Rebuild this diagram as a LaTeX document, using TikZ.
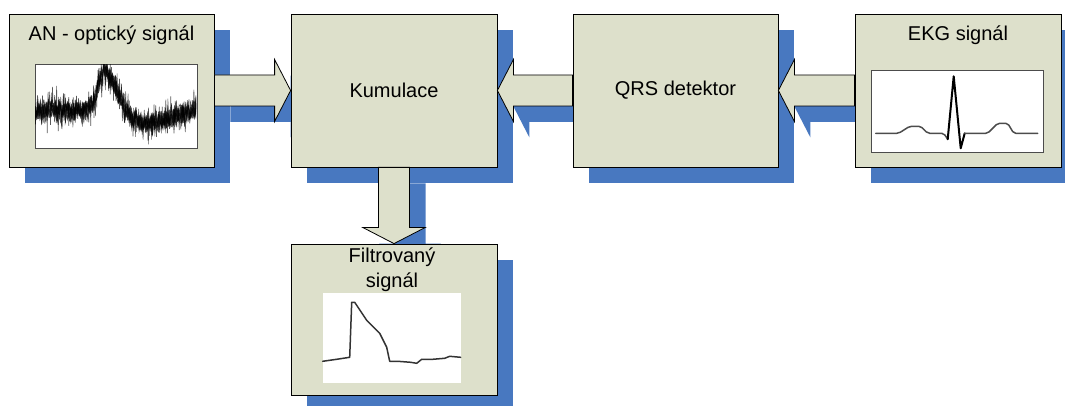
\documentclass[tikz,border=0pt]{standalone}
\usepackage{fontspec}
\setmainfont{Liberation Sans}
\usetikzlibrary{calc,backgrounds,positioning}

\definecolor{boxfill}{RGB}{221,224,203}
\definecolor{shadowblue}{RGB}{72,120,192}

\tikzset{
  block/.style={draw=black, line width=0.8pt, fill=boxfill, minimum width=205pt, minimum height=153pt, inner sep=0pt, font=\fontsize{20}{25}\selectfont},
  boxtitle/.style={inner sep=0pt, font=\fontsize{20}{25}\selectfont, align=center},
  plotbox/.style={draw=black!70, line width=0.6pt, fill=white, inner sep=0pt},
  fatbody/.style={draw=black, line width=0.8pt, fill=boxfill, line join=miter},
  fatshadow/.style={draw=none, fill=shadowblue},
  sigline/.style={line width=1.5pt, black!80, line join=round, line cap=round}
}

% fat arrow from #2 with its tip on #3
\newcommand{\fatarrow}[3][]{%
  \coordinate (fa-h) at ($(#3)!16pt!(#2)$);
  \path[#1] ($(#2)!15.5pt!90:(#3)$) -- ($(fa-h)!15.5pt!90:(#3)$) -- ($(fa-h)!31pt!90:(#3)$) -- (#3)
    -- ($(fa-h)!31pt!-90:(#3)$) -- ($(fa-h)!15.5pt!-90:(#3)$) -- ($(#2)!15.5pt!-90:(#3)$) -- cycle;}

\begin{document}
\begin{tikzpicture}[x=1pt,y=1pt]
\useasboundingbox (0,0) rectangle (1065,406);

% -- blocks
\node[block] (an) at (111.5,315.5) {};
\node[block, minimum width=206pt] (kum) at (394,315.5) {Kumulace};
\node[block] (qrs) at (675.5,315.5) {QRS detektor};
\node[block, minimum width=206pt] (ekg) at (958,315.5) {};
\node[block, minimum width=206pt, minimum height=151pt] (filt) at (394,86.5) {};

% -- titles
\node[boxtitle, anchor=base] (antitle) at ($(an.north)+(0,-27)$) {AN - optický signál};
\node[boxtitle, anchor=base] (ekgtitle) at ($(ekg.north)+(0,-27)$) {EKG signál};
\node[boxtitle] (filttitle) at ($(filt.north)+(-2,-26)$) {Filtrovaný\\signál};

% -- plot areas
\node[plotbox, minimum width=162pt, minimum height=84pt] (anplot) at (116,300) {};
\node[plotbox, minimum width=172pt, minimum height=82pt] (ekgplot) at (957,295) {};
\node[plotbox, draw=none, minimum width=138pt, minimum height=90pt] (filtplot) at (392,68) {};

% -- shadows
\begin{pgfonlayer}{background}
\foreach \b in {an,kum,qrs,ekg,filt}
  \fill[shadowblue] ([shift={(16,-16)}]\b.south west) rectangle ([shift={(16,-16)}]\b.north east);
\coordinate (s-an) at ([shift={(16,-16)}]an.east);
\coordinate (s-kw) at ([shift={(16,-16)}]kum.west);
\coordinate (s-ke) at ([shift={(16,-16)}]kum.east);
\coordinate (s-ks) at ([shift={(16,-16)}]kum.south);
\coordinate (s-qw) at ([shift={(16,-16)}]qrs.west);
\coordinate (s-qe) at ([shift={(16,-16)}]qrs.east);
\coordinate (s-ew) at ([shift={(16,-16)}]ekg.west);
\coordinate (s-fn) at ([shift={(16,-16)}]filt.north);
\fatarrow[fatshadow]{s-an}{s-kw}
\fatarrow[fatshadow]{s-qw}{s-ke}
\fatarrow[fatshadow]{s-ew}{s-qe}
\fatarrow[fatshadow]{s-ks}{s-fn}
\end{pgfonlayer}

% -- arrows
\fatarrow[fatbody]{an.east}{kum.west}
\fatarrow[fatbody]{qrs.west}{kum.east}
\fatarrow[fatbody]{ekg.west}{qrs.east}
\fatarrow[fatbody]{kum.south}{filt.north}

% -- optical signal
\begin{scope}[shift={(anplot.south west)}]
\clip (0.5,0.5) rectangle (161.5,83.5);
\pgfmathsetseed{7}
\foreach \k in {1,...,5}
  \draw[black, line width=0.6pt, opacity=0.65] plot[domain=0:162, samples=400]
    (\x, {38 + 40*exp(-min(((\x-70)^2)/(2*(\x<70 ? 7 : 12)^2), 20))
          - 13*exp(-min(((\x-112)^2)/(2*22^2), 20))
          + 9*rand + 22*rand*rand*rand});
\end{scope}

% -- ECG signal
\begin{scope}[shift={(ekgplot.south west)}]
\draw[sigline, black!70, rounded corners=2pt] (5,19) -- (28,19) -- (39,26) -- (50,26) -- (57,19) -- (73,19) -- (77,13);
\draw[sigline, black, line width=2pt] (77,13) -- (83,76) -- (90,4) -- (94,19);
\draw[sigline, black!70, rounded corners=2pt] (94,19) -- (117,19) -- (127,29) -- (137,29) -- (143,19) -- (167,19);
\end{scope}

% -- filtered signal
\begin{scope}[shift={(filtplot.south west)}]
\draw[sigline] plot coordinates {(0,22) (14,24) (27,26) (29,81) (32,81) (44,63) (57,50) (64,36) (67,22)
  (75,22) (88,21) (94,20) (99,24) (110,24) (122,25) (127,27) (138,26)};
\end{scope}
\end{tikzpicture}
\end{document}
